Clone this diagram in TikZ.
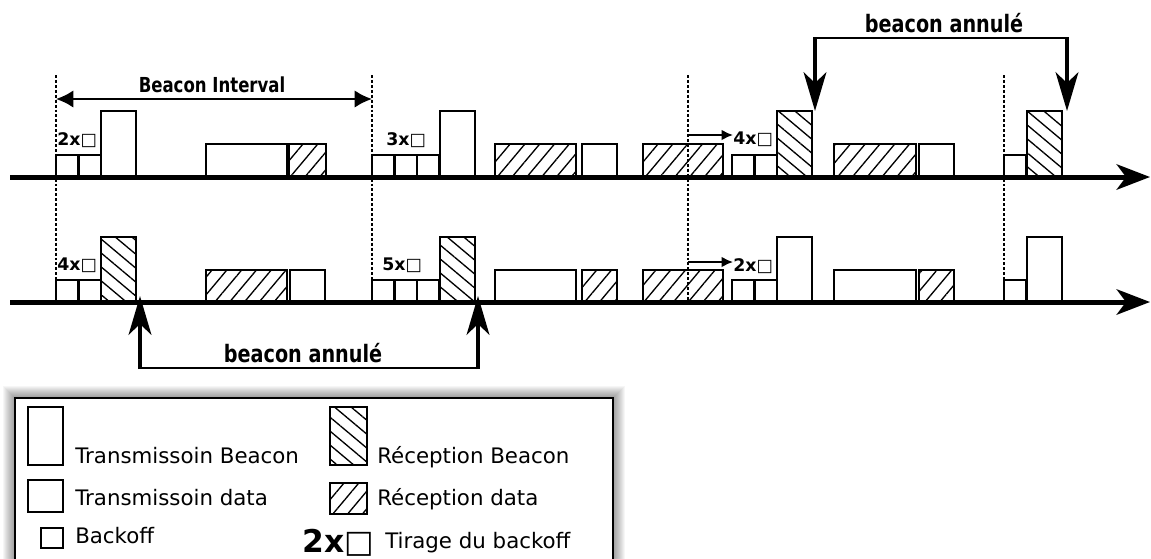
\documentclass[tikz,border=0pt]{standalone}
\usepackage{fontspec}
\setmainfont{DejaVu Sans}
\newfontfamily\narrowfont[FakeStretch=0.8]{DejaVu Sans}
\usetikzlibrary{arrows.meta,calc,patterns.meta}

\begin{document}
\begin{tikzpicture}[x=0.75pt,y=-0.75pt,
    slot/.style={draw=black,line width=1.7pt,fill=white},
    rxbeacon/.style={draw=black,line width=1.7pt,pattern={Lines[angle=-40,distance=8pt,line width=1pt]}},
    rxdata/.style={draw=black,line width=1.7pt,pattern={Lines[angle=50,distance=8.5pt,line width=1pt]}},
    timeaxis/.style={line width=3.75pt,-{Stealth[length=25pt,width=19pt,inset=7pt]}},
    period/.style={line width=0.8pt,dash pattern=on 2.2pt off 1.5pt},
    cancel/.style={line width=3pt,-{Stealth[length=29pt,width=17pt,inset=8pt]}},
    tiny/.style={line width=1.5pt,-{Latex[length=8.5pt,width=8pt]}},
    count/.style={font=\bfseries\fontsize{13}{15}\selectfont,inner sep=0pt,anchor=base west},
    bigbold/.style={font=\narrowfont\bfseries\fontsize{18}{20}\selectfont,inner sep=0pt},
    legtext/.style={font=\fontsize{16}{18}\selectfont,inner sep=0pt,anchor=base west}]
  \clip (0,0) rectangle (1151,558);
  \fill[white] (0,0) rectangle (1151,558);

  % beacon periods
  \foreach \x in {56,372,688,1004}
    \draw[period] (\x,75) -- (\x,302);

  % first node
  \foreach \x in {56,78.5} \draw[slot] (\x,177) rectangle ++(22.5,-22);
  \draw[slot] (101,111) rectangle (136,177);
  \draw[slot] (206,144) rectangle (287,177);
  \draw[rxdata] (289,144) rectangle (326,177);
  \foreach \x in {372,394.5,417} \draw[slot] (\x,177) rectangle ++(22.5,-22);
  \draw[slot] (440,111) rectangle (475,177);
  \draw[rxdata] (495,144) rectangle (576,177);
  \draw[slot] (582,144) rectangle (617,177);
  \draw[rxdata] (643,144) rectangle (723,177);
  \foreach \x in {732,754.5} \draw[slot] (\x,177) rectangle ++(22.5,-22);
  \draw[rxbeacon] (777,177) rectangle (812,111) coordinate (rb3);
  \draw[rxdata] (834,144) rectangle (916,177);
  \draw[slot] (919,144) rectangle (954,177);
  \draw[slot] (1004,177) rectangle ++(22.5,-22);
  \draw[rxbeacon] (1027,177) rectangle (1062,111) coordinate (rb4);
  \draw[timeaxis] (10,177) -- (1150,177);

  % second node
  \foreach \x in {56,78.5} \draw[slot] (\x,302) rectangle ++(22.5,-22);
  \draw[rxbeacon] (101,237) rectangle (136,302) coordinate (rb1);
  \draw[rxdata] (206,270) rectangle (287,302);
  \draw[slot] (290,270) rectangle (325,302);
  \foreach \x in {372,394.5,417} \draw[slot] (\x,302) rectangle ++(22.5,-22);
  \draw[rxbeacon] (440,237) rectangle (475,302) coordinate (rb2);
  \draw[slot] (495,270) rectangle (576,302);
  \draw[rxdata] (582,270) rectangle (617,302);
  \draw[rxdata] (643,270) rectangle (723,302);
  \foreach \x in {732,754.5} \draw[slot] (\x,302) rectangle ++(22.5,-22);
  \draw[slot] (777,237) rectangle (812,302);
  \draw[slot] (834,270) rectangle (916,302);
  \draw[rxdata] (919,270) rectangle (954,302);
  \draw[slot] (1004,302) rectangle ++(22.5,-22);
  \draw[slot] (1027,237) rectangle (1062,302);
  \draw[timeaxis] (10,302) -- (1150,302);

  % backoff draws
  \node[count] (c1) at (57,145) {2x□};
  \node[count] (c2) at (386,145) {3x□};
  \node[count] (c3) at (733,144) {4x□};
  \node[count] (c4) at (57,270) {4x□};
  \node[count] (c5) at (382,270) {5x□};
  \node[count] (c6) at (733,271) {2x□};
  \coordinate (s1) at (688,135);
  \coordinate (s2) at (688,262);
  \draw[tiny] (s1) -- (s1 -| c3.west);
  \draw[tiny] (s2) -- (s2 -| c6.west);

  % beacon interval
  \coordinate (bi1) at (56,99);
  \coordinate (bi2) at (372,99);
  \draw[line width=1.5pt,{Latex[length=13pt,width=13pt]}-{Latex[length=13pt,width=13pt]}] (bi1) -- (bi2);
  \node[bigbold,font=\narrowfont\bfseries\fontsize{15.5}{17}\selectfont] (bint) at (212,85) {Beacon Interval};

  % cancelled beacons
  \coordinate (ct1) at ($(rb3)+(3,-73)$);
  \coordinate (ct2) at ($(rb4)+(5,-73)$);
  \draw[line width=1.5pt] (ct1) -- (ct2);
  \draw[cancel] ($(ct1)+(0,-1)$) -- ($(rb3)+(3,0)$);
  \draw[cancel] ($(ct2)+(0,-1)$) -- ($(rb4)+(5,0)$);
  \node[bigbold] (anntop) at (944,23) {beacon annulé};
  \coordinate (cb1) at ($(rb1)+(4,66)$);
  \coordinate (cb2) at ($(rb2)+(3,66)$);
  \draw[line width=1.5pt] (cb1) -- (cb2);
  \draw[cancel] ($(cb1)+(0,1)$) -- ($(rb1)+(4,-6)$);
  \draw[cancel] ($(cb2)+(0,1)$) -- ($(rb2)+(3,-6)$);
  \node[bigbold] (annbot) at (303,353) {beacon annulé};

  % legend
  \foreach \s in {1,...,12}
    \fill[black,opacity=0.035] (15-\s,398-\s) rectangle (613+\s,600);
  \draw[line width=1.6pt,fill=white] (15,398) rectangle (613,600);
  \draw[slot] (28,407) rectangle (63,465);
  \node[legtext] (l1) at (75,463) {Transmissoin Beacon};
  \draw[slot] (28,480) rectangle (63,512);
  \node[legtext] (l2) at (75,505) {Transmissoin data};
  \draw[slot] (41,528) rectangle (63,548);
  \node[legtext] (l3) at (75,543) {Backoff};
  \draw[rxbeacon] (330,407) rectangle (367,465);
  \node[legtext] (l4) at (377,463) {Réception Beacon};
  \draw[rxdata] (330,483) rectangle (367,514);
  \node[legtext] (l5) at (377,505) {Réception data};
  \node[inner sep=0pt,anchor=base west,font=\bfseries\fontsize{23.5}{26}\selectfont] (l6) at (302,552) {2x□};
  \node[legtext] (l7) at (385,548) {Tirage du backoff};
\end{tikzpicture}
\end{document}
